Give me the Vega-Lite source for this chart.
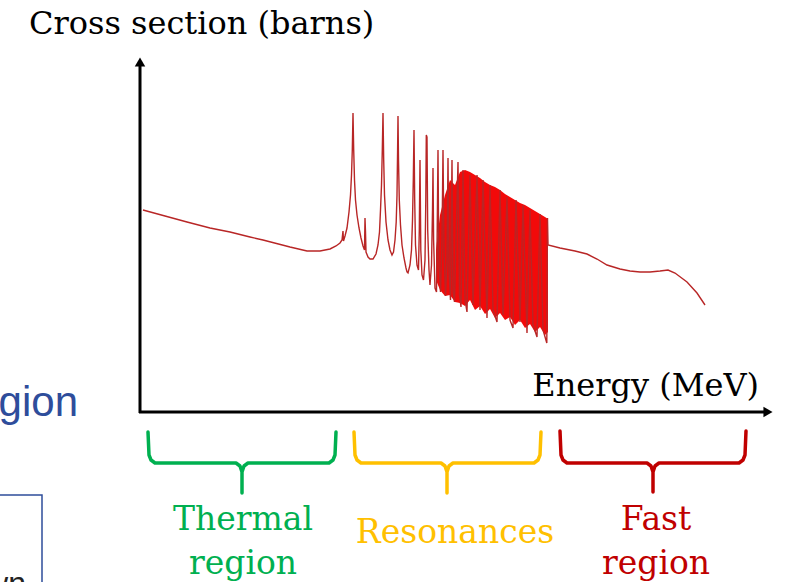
{
  "$schema": "https://vega.github.io/schema/vega-lite/v6.json",
  "width": 786,
  "height": 582,
  "autosize": {"type": "fit", "contains": "padding"},
  "padding": 0,
  "background": "white",
  "config": {"view": {"stroke": null}},
  "layer": [
    {
      "data": {"values": [
        {"x": 436, "top": 250, "bot": 280}, {"x": 440, "top": 215, "bot": 290}, {"x": 445, "top": 195, "bot": 296},
        {"x": 450, "top": 180, "bot": 295}, {"x": 455, "top": 185, "bot": 302}, {"x": 460, "top": 172, "bot": 303},
        {"x": 465, "top": 170, "bot": 306}, {"x": 470, "top": 172, "bot": 300}, {"x": 475, "top": 175, "bot": 310},
        {"x": 480, "top": 178, "bot": 306}, {"x": 485, "top": 182, "bot": 314}, {"x": 490, "top": 185, "bot": 309},
        {"x": 495, "top": 187, "bot": 318}, {"x": 500, "top": 190, "bot": 313}, {"x": 505, "top": 194, "bot": 320},
        {"x": 510, "top": 197, "bot": 317}, {"x": 515, "top": 200, "bot": 325}, {"x": 520, "top": 203, "bot": 320},
        {"x": 525, "top": 205, "bot": 328}, {"x": 530, "top": 208, "bot": 324}, {"x": 535, "top": 211, "bot": 332},
        {"x": 540, "top": 214, "bot": 327}, {"x": 545, "top": 217, "bot": 335}, {"x": 548, "top": 219, "bot": 332}
      ]},
      "mark": {"type": "area", "color": "#f20a0a", "opacity": 1},
      "encoding": {
        "x": {"field": "x", "type": "quantitative", "scale": {"domain": [0, 786]}, "axis": null},
        "y": {"field": "top", "type": "quantitative", "scale": {"domain": [0, 582], "reverse": true}, "axis": null},
        "y2": {"field": "bot"}
      }
    },
    {
      "data": {"values": [
        {"x": 143, "y": 210}, {"x": 165, "y": 216}, {"x": 187, "y": 222}, {"x": 210, "y": 228}, {"x": 230, "y": 232},
        {"x": 250, "y": 237}, {"x": 263, "y": 240}, {"x": 290, "y": 247}, {"x": 307, "y": 251}, {"x": 320, "y": 251},
        {"x": 330, "y": 249}, {"x": 336, "y": 246}, {"x": 340, "y": 243}, {"x": 342, "y": 240}, {"x": 343, "y": 231},
        {"x": 343.5, "y": 241}, {"x": 345, "y": 236}, {"x": 347, "y": 228}, {"x": 349, "y": 212}, {"x": 350.5, "y": 195},
        {"x": 351.5, "y": 175}, {"x": 352.3, "y": 150}, {"x": 353, "y": 113}, {"x": 353.7, "y": 150}, {"x": 354.5, "y": 180},
        {"x": 355.5, "y": 200}, {"x": 357, "y": 215}, {"x": 359, "y": 228}, {"x": 361, "y": 238}, {"x": 363, "y": 246},
        {"x": 364.5, "y": 250}, {"x": 365, "y": 218}, {"x": 365.5, "y": 232}, {"x": 366, "y": 252}, {"x": 368, "y": 257},
        {"x": 370, "y": 259}, {"x": 373, "y": 259}, {"x": 376, "y": 254}, {"x": 378, "y": 245}, {"x": 379.5, "y": 232},
        {"x": 380.5, "y": 210}, {"x": 381.5, "y": 185}, {"x": 382.3, "y": 150}, {"x": 383, "y": 113}, {"x": 383.7, "y": 160},
        {"x": 384.5, "y": 195}, {"x": 386, "y": 222}, {"x": 388, "y": 240}, {"x": 390, "y": 250}, {"x": 392, "y": 255},
        {"x": 393.5, "y": 252}, {"x": 395, "y": 240}, {"x": 396.2, "y": 222}, {"x": 397, "y": 195}, {"x": 397.6, "y": 150},
        {"x": 398, "y": 116}, {"x": 398.5, "y": 160}, {"x": 399.3, "y": 200}, {"x": 400.5, "y": 225}, {"x": 402, "y": 245},
        {"x": 404, "y": 258}, {"x": 406, "y": 268}, {"x": 407, "y": 272}, {"x": 408, "y": 273}, {"x": 410, "y": 265},
        {"x": 411.5, "y": 250}, {"x": 412.5, "y": 220}, {"x": 413.3, "y": 180}, {"x": 414, "y": 130}, {"x": 414.7, "y": 200},
        {"x": 415.5, "y": 245}, {"x": 417, "y": 265}, {"x": 418.5, "y": 270}, {"x": 419.3, "y": 230}, {"x": 420, "y": 160},
        {"x": 420.8, "y": 250}, {"x": 422, "y": 275}, {"x": 423.5, "y": 280}, {"x": 425, "y": 260}, {"x": 425.8, "y": 200},
        {"x": 426.3, "y": 135}, {"x": 427, "y": 137}, {"x": 427.7, "y": 230}, {"x": 429, "y": 270}, {"x": 430, "y": 285},
        {"x": 431.5, "y": 265}, {"x": 432.5, "y": 210}, {"x": 433, "y": 168}, {"x": 433.6, "y": 240}, {"x": 435, "y": 288},
        {"x": 436.5, "y": 292}, {"x": 437.2, "y": 230}, {"x": 438, "y": 150}, {"x": 438.8, "y": 260}, {"x": 440.5, "y": 292},
        {"x": 442, "y": 240}, {"x": 443, "y": 150}, {"x": 444, "y": 250}, {"x": 445.5, "y": 296}, {"x": 447, "y": 260},
        {"x": 448, "y": 158}, {"x": 449, "y": 270}, {"x": 450.5, "y": 300}, {"x": 452, "y": 160}, {"x": 453, "y": 290},
        {"x": 454.5, "y": 302}, {"x": 456.5, "y": 220}, {"x": 458, "y": 162}, {"x": 459.5, "y": 295}, {"x": 461, "y": 307},
        {"x": 463, "y": 170}, {"x": 465, "y": 300}, {"x": 467, "y": 312}, {"x": 470, "y": 175}, {"x": 473, "y": 305},
        {"x": 477, "y": 175}, {"x": 480, "y": 310}, {"x": 483, "y": 180}, {"x": 487, "y": 318}, {"x": 490, "y": 185},
        {"x": 493, "y": 310}, {"x": 497, "y": 322}, {"x": 500, "y": 190}, {"x": 503, "y": 315}, {"x": 507, "y": 197},
        {"x": 510, "y": 320}, {"x": 513, "y": 328}, {"x": 516, "y": 200}, {"x": 520, "y": 322}, {"x": 523, "y": 205},
        {"x": 527, "y": 333}, {"x": 530, "y": 210}, {"x": 533, "y": 325}, {"x": 537, "y": 337}, {"x": 540, "y": 214},
        {"x": 543, "y": 330}, {"x": 546.8, "y": 343}, {"x": 547.5, "y": 218}, {"x": 548, "y": 245}, {"x": 560, "y": 248},
        {"x": 575, "y": 251}, {"x": 587, "y": 254}, {"x": 597, "y": 259}, {"x": 607, "y": 265}, {"x": 620, "y": 269},
        {"x": 630, "y": 271}, {"x": 640, "y": 272}, {"x": 650, "y": 272}, {"x": 660, "y": 271}, {"x": 668, "y": 270},
        {"x": 675, "y": 273}, {"x": 687, "y": 282}, {"x": 697, "y": 293}, {"x": 705, "y": 305}
      ]},
      "mark": {"type": "line", "color": "#b82626", "strokeWidth": 1.4, "strokeJoin": "miter"},
      "encoding": {
        "x": {"field": "x", "type": "quantitative", "scale": {"domain": [0, 786]}, "axis": null},
        "y": {"field": "y", "type": "quantitative", "scale": {"domain": [0, 582], "reverse": true}, "axis": null}
      }
    },
    {
      "data": {"values": [
        {"x": 140, "y": 413, "x2": 140, "y2": 66},
        {"x": 139, "y": 412, "x2": 765, "y2": 412}
      ]},
      "mark": {"type": "rule", "color": "black", "strokeWidth": 3},
      "encoding": {
        "x": {"field": "x", "type": "quantitative", "scale": {"domain": [0, 786]}, "axis": null},
        "y": {"field": "y", "type": "quantitative", "scale": {"domain": [0, 582], "reverse": true}, "axis": null},
        "x2": {"field": "x2"},
        "y2": {"field": "y2"}
      }
    },
    {
      "data": {"values": [
        {"x": 140, "y": 62, "s": "triangle-up"},
        {"x": 768, "y": 412, "s": "triangle-right"}
      ]},
      "mark": {"type": "point", "filled": true, "color": "black", "opacity": 1, "size": 110},
      "encoding": {
        "x": {"field": "x", "type": "quantitative", "scale": {"domain": [0, 786]}, "axis": null},
        "y": {"field": "y", "type": "quantitative", "scale": {"domain": [0, 582], "reverse": true}, "axis": null},
        "shape": {"field": "s", "type": "nominal", "scale": null}
      }
    },
    {
      "data": {"values": [
        {"r": "Thermal", "k": 1, "x": 148, "y": 432}, {"r": "Thermal", "k": 2, "x": 149, "y": 455}, {"r": "Thermal", "k": 3, "x": 151, "y": 460},
        {"r": "Thermal", "k": 4, "x": 155, "y": 463}, {"r": "Thermal", "k": 5, "x": 236, "y": 463}, {"r": "Thermal", "k": 6, "x": 240, "y": 466},
        {"r": "Thermal", "k": 7, "x": 242, "y": 472}, {"r": "Thermal", "k": 8, "x": 242, "y": 493}, {"r": "Thermal", "k": 9, "x": 242, "y": 472},
        {"r": "Thermal", "k": 10, "x": 244, "y": 466}, {"r": "Thermal", "k": 11, "x": 248, "y": 463}, {"r": "Thermal", "k": 12, "x": 329, "y": 463},
        {"r": "Thermal", "k": 13, "x": 333, "y": 460}, {"r": "Thermal", "k": 14, "x": 335, "y": 455}, {"r": "Thermal", "k": 15, "x": 336, "y": 432},
        {"r": "Resonances", "k": 1, "x": 354, "y": 432}, {"r": "Resonances", "k": 2, "x": 355, "y": 455}, {"r": "Resonances", "k": 3, "x": 357, "y": 460},
        {"r": "Resonances", "k": 4, "x": 361, "y": 463}, {"r": "Resonances", "k": 5, "x": 441, "y": 463}, {"r": "Resonances", "k": 6, "x": 445, "y": 466},
        {"r": "Resonances", "k": 7, "x": 447, "y": 472}, {"r": "Resonances", "k": 8, "x": 447, "y": 493}, {"r": "Resonances", "k": 9, "x": 447, "y": 472},
        {"r": "Resonances", "k": 10, "x": 449, "y": 466}, {"r": "Resonances", "k": 11, "x": 453, "y": 463}, {"r": "Resonances", "k": 12, "x": 534, "y": 463},
        {"r": "Resonances", "k": 13, "x": 538, "y": 460}, {"r": "Resonances", "k": 14, "x": 540, "y": 455}, {"r": "Resonances", "k": 15, "x": 541, "y": 432},
        {"r": "Fast", "k": 1, "x": 560, "y": 431}, {"r": "Fast", "k": 2, "x": 561, "y": 455}, {"r": "Fast", "k": 3, "x": 563, "y": 460},
        {"r": "Fast", "k": 4, "x": 567, "y": 463}, {"r": "Fast", "k": 5, "x": 647, "y": 463}, {"r": "Fast", "k": 6, "x": 651, "y": 466},
        {"r": "Fast", "k": 7, "x": 653, "y": 472}, {"r": "Fast", "k": 8, "x": 653, "y": 492}, {"r": "Fast", "k": 9, "x": 653, "y": 472},
        {"r": "Fast", "k": 10, "x": 655, "y": 466}, {"r": "Fast", "k": 11, "x": 659, "y": 463}, {"r": "Fast", "k": 12, "x": 739, "y": 463},
        {"r": "Fast", "k": 13, "x": 743, "y": 460}, {"r": "Fast", "k": 14, "x": 745, "y": 455}, {"r": "Fast", "k": 15, "x": 746, "y": 431}
      ]},
      "mark": {"type": "line", "strokeWidth": 3.5, "strokeCap": "round", "strokeJoin": "round"},
      "encoding": {
        "x": {"field": "x", "type": "quantitative", "scale": {"domain": [0, 786]}, "axis": null},
        "y": {"field": "y", "type": "quantitative", "scale": {"domain": [0, 582], "reverse": true}, "axis": null},
        "order": {"field": "k", "type": "quantitative"},
        "color": {"field": "r", "type": "nominal", "legend": null,
          "scale": {"domain": ["Thermal", "Resonances", "Fast"], "range": ["#00b050", "#ffc000", "#c00000"]}}
      }
    },
    {
      "data": {"values": [
        {"r": "Thermal", "t": "Thermal", "x": 243, "y": 530},
        {"r": "Thermal", "t": "region", "x": 243, "y": 574},
        {"r": "Resonances", "t": "Resonances", "x": 455, "y": 543},
        {"r": "Fast", "t": "Fast", "x": 656, "y": 530},
        {"r": "Fast", "t": "region", "x": 656, "y": 574}
      ]},
      "mark": {"type": "text", "font": "DejaVu Serif", "fontSize": 33, "align": "center", "baseline": "alphabetic"},
      "encoding": {
        "x": {"field": "x", "type": "quantitative", "scale": {"domain": [0, 786]}, "axis": null},
        "y": {"field": "y", "type": "quantitative", "scale": {"domain": [0, 582], "reverse": true}, "axis": null},
        "text": {"field": "t", "type": "nominal"},
        "color": {"field": "r", "type": "nominal", "legend": null,
          "scale": {"domain": ["Thermal", "Resonances", "Fast"], "range": ["#00b050", "#ffc000", "#c00000"]}}
      }
    },
    {
      "data": {"values": [
        {"t": "Cross section (barns)", "x": 29, "y": 34}
      ]},
      "mark": {"type": "text", "font": "DejaVu Serif", "fontSize": 32, "align": "left", "baseline": "alphabetic", "color": "black"},
      "encoding": {
        "x": {"field": "x", "type": "quantitative", "scale": {"domain": [0, 786]}, "axis": null},
        "y": {"field": "y", "type": "quantitative", "scale": {"domain": [0, 582], "reverse": true}, "axis": null},
        "text": {"field": "t", "type": "nominal"}
      }
    },
    {
      "data": {"values": [
        {"t": "Energy (MeV)", "x": 759, "y": 396}
      ]},
      "mark": {"type": "text", "font": "DejaVu Serif", "fontSize": 32, "align": "right", "baseline": "alphabetic", "color": "black"},
      "encoding": {
        "x": {"field": "x", "type": "quantitative", "scale": {"domain": [0, 786]}, "axis": null},
        "y": {"field": "y", "type": "quantitative", "scale": {"domain": [0, 582], "reverse": true}, "axis": null},
        "text": {"field": "t", "type": "nominal"}
      }
    },
    {
      "data": {"values": [
        {"t": "gion", "x": 78, "y": 416}
      ]},
      "mark": {"type": "text", "font": "Liberation Sans", "fontSize": 42, "align": "right", "baseline": "alphabetic", "color": "#2e4d9b", "clip": true},
      "encoding": {
        "x": {"field": "x", "type": "quantitative", "scale": {"domain": [0, 786]}, "axis": null},
        "y": {"field": "y", "type": "quantitative", "scale": {"domain": [0, 582], "reverse": true}, "axis": null},
        "text": {"field": "t", "type": "nominal"}
      }
    },
    {
      "data": {"values": [
        {"x": -10, "x2": 42, "y": 495, "y2": 600}
      ]},
      "mark": {"type": "rect", "fill": null, "filled": false, "stroke": "#2e4d9b", "strokeWidth": 1.5, "clip": true},
      "encoding": {
        "x": {"field": "x", "type": "quantitative", "scale": {"domain": [0, 786]}, "axis": null},
        "y": {"field": "y", "type": "quantitative", "scale": {"domain": [0, 582], "reverse": true}, "axis": null},
        "x2": {"field": "x2"},
        "y2": {"field": "y2"}
      }
    },
    {
      "data": {"values": [
        {"t": "own", "x": 26, "y": 594}
      ]},
      "mark": {"type": "text", "font": "Liberation Sans", "fontSize": 32, "align": "right", "baseline": "alphabetic", "color": "#222222", "clip": true},
      "encoding": {
        "x": {"field": "x", "type": "quantitative", "scale": {"domain": [0, 786]}, "axis": null},
        "y": {"field": "y", "type": "quantitative", "scale": {"domain": [0, 582], "reverse": true}, "axis": null},
        "text": {"field": "t", "type": "nominal"}
      }
    }
  ]
}
